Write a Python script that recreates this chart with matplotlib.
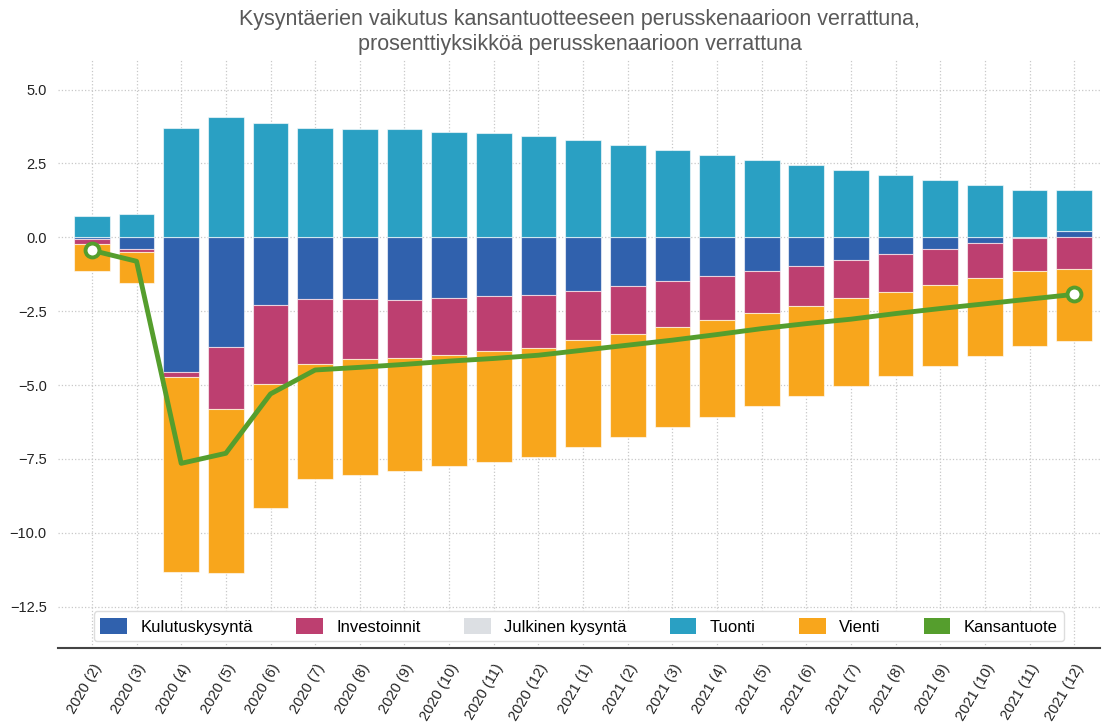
import matplotlib
matplotlib.use("Agg")
import matplotlib.pyplot as plt
import numpy as np
from matplotlib.patches import Patch

plt.rcParams['font.family'] = ['Liberation Sans', 'DejaVu Sans']

categories = ["2020 (2)", "2020 (3)", "2020 (4)", "2020 (5)", "2020 (6)", "2020 (7)",
              "2020 (8)", "2020 (9)", "2020 (10)", "2020 (11)", "2020 (12)",
              "2021 (1)", "2021 (2)", "2021 (3)", "2021 (4)", "2021 (5)", "2021 (6)",
              "2021 (7)", "2021 (8)", "2021 (9)", "2021 (10)", "2021 (11)", "2021 (12)"]

kulutus = [-0.07, -0.38, -4.55, -3.71, -2.30, -2.09, -2.09, -2.12, -2.06, -1.99, -1.94,
           -1.81, -1.64, -1.49, -1.31, -1.15, -0.96, -0.77, -0.57, -0.38, -0.19, -0.02, 0.23]
investoinnit = [-0.17, -0.10, -0.18, -2.11, -2.68, -2.21, -2.02, -1.98, -1.93, -1.86, -1.79,
                -1.68, -1.63, -1.54, -1.49, -1.41, -1.36, -1.30, -1.28, -1.23, -1.18, -1.13, -1.07]
julkinen = [0.0] * 23
tuonti = [0.71, 0.78, 3.69, 4.09, 3.87, 3.70, 3.66, 3.67, 3.58, 3.52, 3.43,
          3.30, 3.13, 2.96, 2.79, 2.62, 2.45, 2.29, 2.12, 1.95, 1.76, 1.59, 1.38]
vienti = [-0.90, -1.06, -6.59, -5.54, -4.18, -3.87, -3.92, -3.82, -3.76, -3.74, -3.69,
          -3.59, -3.48, -3.38, -3.27, -3.15, -3.05, -2.95, -2.84, -2.74, -2.64, -2.52, -2.43]
kansantuote = [-0.44, -0.81, -7.65, -7.31, -5.30, -4.49, -4.40, -4.30, -4.19, -4.10, -3.99,
               -3.82, -3.65, -3.48, -3.29, -3.09, -2.92, -2.77, -2.58, -2.41, -2.25, -2.09, -1.93]

series = [("Kulutuskysyntä", kulutus, "#3061ad"),
          ("Investoinnit", investoinnit, "#bd3f70"),
          ("Julkinen kysyntä", julkinen, "#dcdfe3"),
          ("Tuonti", tuonti, "#2aa0c3"),
          ("Vienti", vienti, "#f8a61c")]

fig = plt.figure(figsize=(11.04, 7.24), dpi=100)
ax = fig.add_axes([0.0525, 0.105, 0.944, 0.812])

x = np.arange(len(categories))
pos_base = np.zeros(len(x))
neg_base = np.zeros(len(x))
for name, vals, col in series:
    v = np.array(vals, dtype=float)
    bottoms = np.where(v >= 0, pos_base, neg_base)
    ax.bar(x, v, 0.8, bottom=bottoms, color=col, edgecolor=(1, 1, 1, 0.6),
           linewidth=0.8, label=name, zorder=2)
    pos_base = pos_base + np.where(v >= 0, v, 0)
    neg_base = neg_base + np.where(v < 0, v, 0)

ax.plot(x, kansantuote, color="#559e2d", lw=3.5, zorder=3,
        marker='o', markevery=[0, len(x) - 1], markersize=10,
        markerfacecolor='white', markeredgecolor="#559e2d", markeredgewidth=2.8,
        label="Kansantuote")

ax.set_xlim(-0.76, 22.58)
ax.set_ylim(-13.9, 6.0)
ax.set_yticks([5.0, 2.5, 0.0, -2.5, -5.0, -7.5, -10.0, -12.5])
ax.set_yticklabels(["5.0", "2.5", "0.0", "\u22122.5", "\u22125.0", "\u22127.5", "\u221210.0", "\u221212.5"])
ax.set_xticks(x)
ax.set_xticklabels(categories, rotation=60, ha='right', rotation_mode='anchor')
ax.tick_params(axis='both', labelsize=10.5, colors='#222222', length=0, pad=8)
ax.tick_params(axis='x', pad=10)

ax.grid(True, linestyle=':', color='#c8c8c8', linewidth=0.9, zorder=0)
ax.set_axisbelow(True)
for s in ['left', 'right', 'top']:
    ax.spines[s].set_visible(False)
ax.spines['bottom'].set_color('#444444')
ax.spines['bottom'].set_linewidth(1.5)

leg_handles = [Patch(facecolor=c, edgecolor='none') for _, _, c in series] + \
              [Patch(facecolor="#559e2d", edgecolor='none')]
leg_labels = [n for n, _, _ in series] + ["Kansantuote"]
ax.legend(leg_handles, leg_labels, loc='lower center', ncol=6, fontsize=12,
          frameon=True, fancybox=True, edgecolor='#dddddd', framealpha=1,
          handlelength=1.6, handleheight=1.1, columnspacing=2.6,
          bbox_to_anchor=(0.5, 0.0), borderaxespad=0.4)

fig.text(0.525, 0.987,
         "Kysyntäerien vaikutus kansantuotteeseen perusskenaarioon verrattuna,\n"
         "prosenttiyksikköä perusskenaarioon verrattuna",
         ha='center', va='top', fontsize=15.5, color='#595959', linespacing=1.25)

fig.savefig("out.png", dpi=100)
